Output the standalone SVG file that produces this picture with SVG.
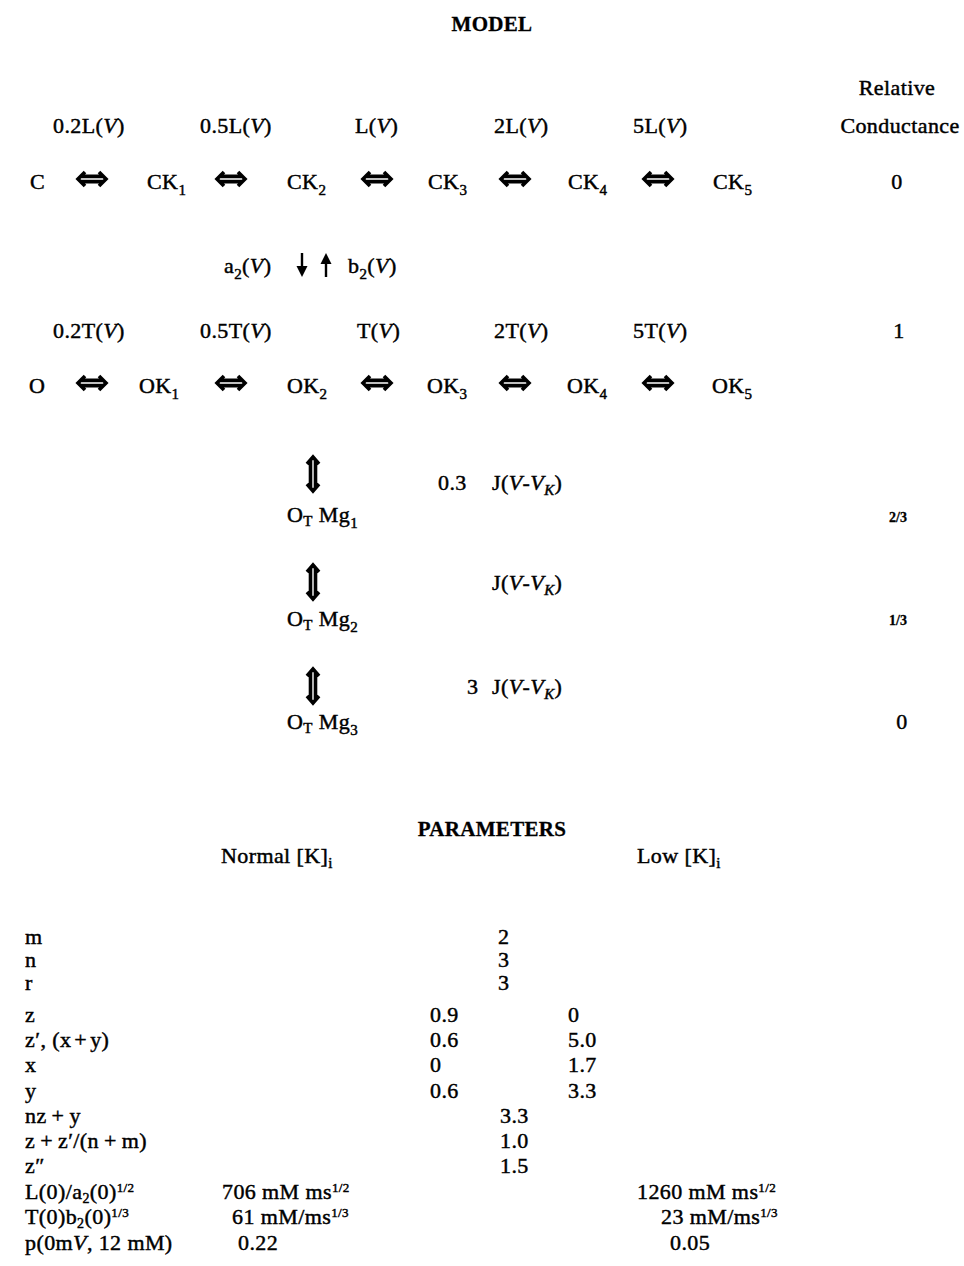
<svg xmlns="http://www.w3.org/2000/svg" xmlns:xlink="http://www.w3.org/1999/xlink" width="964" height="1266" viewBox="0 0 964 1266">
  <style>
    text { font-family: "Liberation Serif", "Times New Roman", serif; font-size: 22px; letter-spacing: 0.4px; fill: #000; stroke: #000; stroke-width: 0.45; }
    .title { font-weight: bold; font-size: 21px; letter-spacing: 0.3px; stroke-width: 0.3; }
    .sub { font-size: 15px; }
    .sup { font-size: 13px; }
    .psub { font-size: 14px; }
    .small { font-size: 14px; font-weight: bold; letter-spacing: 0; stroke-width: 0.3; }
    .it { font-style: italic; }
    .mid { text-anchor: middle; }
    .arr { fill: none; stroke: #000; stroke-width: 3.6; stroke-linejoin: miter; stroke-linecap: butt; }
    .thin { fill: none; stroke: #000; stroke-width: 2.4; }
    .head { fill: #000; stroke: none; }
  </style>
  <defs>
    <!-- bold double-headed reversible-step arrow, centred on the origin -->
    <g id="dblH">
      <path class="arr" d="M -7,-7 L -14,0 L -7,7 M 7,-7 L 14,0 L 7,7 M -11,-2.6 H 11 M -11,2.6 H 11"/>
    </g>
    <g id="dblV">
      <path class="arr" d="M -6,-10 L 0,-17 L 6,-10 M -6,10 L 0,17 L 6,10 M -2.5,-14 V 14 M 2.5,-14 V 14"/>
    </g>
  </defs>

  <rect width="964" height="1266" fill="#fff"/>

  <!-- headings -->
  <text class="title mid" x="492" y="31">MODEL</text>
  <text class="mid" x="897" y="95">Relative</text>
  <text class="mid" x="900" y="133">Conductance</text>

  <!-- closed-channel rate labels -->
  <g id="rates-closed">
    <text x="53" y="133">0.2L(<tspan class="it">V</tspan>)</text>
    <text x="200" y="133">0.5L(<tspan class="it">V</tspan>)</text>
    <text x="355" y="133">L(<tspan class="it">V</tspan>)</text>
    <text x="494" y="133">2L(<tspan class="it">V</tspan>)</text>
    <text x="633" y="133">5L(<tspan class="it">V</tspan>)</text>
  </g>

  <!-- closed states -->
  <g id="C"><text x="30" y="189">C</text></g>
  <g id="CK1"><text x="147" y="189">CK<tspan class="sub" dy="6">1</tspan></text></g>
  <g id="CK2"><text x="287" y="189">CK<tspan class="sub" dy="6">2</tspan></text></g>
  <g id="CK3"><text x="428" y="189">CK<tspan class="sub" dy="6">3</tspan></text></g>
  <g id="CK4"><text x="568" y="189">CK<tspan class="sub" dy="6">4</tspan></text></g>
  <g id="CK5"><text x="713" y="189">CK<tspan class="sub" dy="6">5</tspan></text></g>
  <text class="mid" x="897" y="189">0</text>

  <!-- opening transition labels -->
  <g id="open-rates">
    <text x="224" y="273">a<tspan class="sub" dy="6">2</tspan><tspan dy="-6">(</tspan><tspan class="it">V</tspan>)</text>
    <text x="348" y="273">b<tspan class="sub" dy="6">2</tspan><tspan dy="-6">(</tspan><tspan class="it">V</tspan>)</text>
  </g>

  <!-- open-channel rate labels -->
  <g id="rates-open">
    <text x="53" y="338">0.2T(<tspan class="it">V</tspan>)</text>
    <text x="200" y="338">0.5T(<tspan class="it">V</tspan>)</text>
    <text x="357" y="338">T(<tspan class="it">V</tspan>)</text>
    <text x="494" y="338">2T(<tspan class="it">V</tspan>)</text>
    <text x="633" y="338">5T(<tspan class="it">V</tspan>)</text>
  </g>
  <text class="mid" x="899" y="338">1</text>

  <!-- open states -->
  <g id="O"><text x="29" y="393">O</text></g>
  <g id="OK1"><text x="139" y="393">OK<tspan class="sub" dy="6">1</tspan></text></g>
  <g id="OK2"><text x="287" y="393">OK<tspan class="sub" dy="6">2</tspan></text></g>
  <g id="OK3"><text x="427" y="393">OK<tspan class="sub" dy="6">3</tspan></text></g>
  <g id="OK4"><text x="567" y="393">OK<tspan class="sub" dy="6">4</tspan></text></g>
  <g id="OK5"><text x="712" y="393">OK<tspan class="sub" dy="6">5</tspan></text></g>

  <!-- Mg-blocked states -->
  <g id="OTMg1"><text x="287" y="522">O<tspan class="sub" dy="4">T</tspan><tspan dy="-4"> Mg</tspan><tspan class="sub" dy="6">1</tspan></text></g>
  <g id="OTMg2"><text x="287" y="626">O<tspan class="sub" dy="4">T</tspan><tspan dy="-4"> Mg</tspan><tspan class="sub" dy="6">2</tspan></text></g>
  <g id="OTMg3"><text x="287" y="729">O<tspan class="sub" dy="4">T</tspan><tspan dy="-4"> Mg</tspan><tspan class="sub" dy="6">3</tspan></text></g>

  <!-- block rate labels -->
  <g id="block-rates">
    <text x="438" y="490">0.3</text>
    <text x="467" y="694">3</text>
    <text x="492" y="490">J(<tspan class="it">V</tspan>-<tspan class="it">V</tspan><tspan class="sub it" dy="5">K</tspan><tspan dy="-5">)</tspan></text>
    <text x="492" y="590">J(<tspan class="it">V</tspan>-<tspan class="it">V</tspan><tspan class="sub it" dy="5">K</tspan><tspan dy="-5">)</tspan></text>
    <text x="492" y="694">J(<tspan class="it">V</tspan>-<tspan class="it">V</tspan><tspan class="sub it" dy="5">K</tspan><tspan dy="-5">)</tspan></text>
  </g>
  <text class="small mid" x="898" y="522">2/3</text>
  <text class="small mid" x="898" y="625">1/3</text>
  <text class="mid" x="902" y="729">0</text>

  <!-- connectors -->
  <g id="connectors">
    <use xlink:href="#dblH" x="92" y="179"/>
    <use xlink:href="#dblH" x="231" y="179"/>
    <use xlink:href="#dblH" x="377" y="179"/>
    <use xlink:href="#dblH" x="515" y="179"/>
    <use xlink:href="#dblH" x="658" y="179"/>

    <use xlink:href="#dblH" x="92" y="383"/>
    <use xlink:href="#dblH" x="231" y="383"/>
    <use xlink:href="#dblH" x="377" y="383"/>
    <use xlink:href="#dblH" x="515" y="383"/>
    <use xlink:href="#dblH" x="658" y="383"/>

    <!-- a2 down / b2 up -->
    <path class="thin" d="M 302,253 V 270"/>
    <path class="head" d="M 296.5,266 L 302,277 L 307.5,266 Z"/>
    <path class="thin" d="M 326,260 V 277"/>
    <path class="head" d="M 320.5,264 L 326,253 L 331.5,264 Z"/>

    <use xlink:href="#dblV" x="313" y="474"/>
    <use xlink:href="#dblV" x="313" y="582"/>
    <use xlink:href="#dblV" x="313" y="686"/>
  </g>

  <!-- parameter table -->
  <text class="title mid" x="492" y="836">PARAMETERS</text>
  <text x="221" y="863">Normal [K]<tspan class="sub" dy="5">i</tspan></text>
  <text x="637" y="863">Low [K]<tspan class="sub" dy="5">i</tspan></text>

  <g id="param-names">
    <text x="25" y="944">m</text>
    <text x="25" y="967">n</text>
    <text x="25" y="990">r</text>
    <text x="25" y="1022">z</text>
    <text x="25" y="1047">z′, (x<tspan dx="3">+</tspan><tspan dx="3">y)</tspan></text>
    <text x="25" y="1072">x</text>
    <text x="25" y="1098">y</text>
    <text x="25" y="1123">nz<tspan dx="5">+</tspan><tspan dx="5">y</tspan></text>
    <text x="25" y="1148">z<tspan dx="5">+</tspan><tspan dx="5">z′/(n</tspan><tspan dx="5">+</tspan><tspan dx="5">m)</tspan></text>
    <text x="25" y="1173">z″</text>
    <text x="25" y="1199">L(0)/a<tspan class="psub" dy="4">2</tspan><tspan dy="-4">(0)</tspan><tspan class="sup" dy="-7">1/2</tspan></text>
    <text x="25" y="1224">T(0)b<tspan class="psub" dy="4">2</tspan><tspan dy="-4">(0)</tspan><tspan class="sup" dy="-7">1/3</tspan></text>
    <text x="25" y="1250">p(0m<tspan class="it">V</tspan>, 12 mM)</text>
  </g>

  <g id="param-values">
    <text x="498" y="944">2</text>
    <text x="498" y="967">3</text>
    <text x="498" y="990">3</text>
    <text x="430" y="1022">0.9</text><text x="568" y="1022">0</text>
    <text x="430" y="1047">0.6</text><text x="568" y="1047">5.0</text>
    <text x="430" y="1072">0</text><text x="568" y="1072">1.7</text>
    <text x="430" y="1098">0.6</text><text x="568" y="1098">3.3</text>
    <text x="500" y="1123">3.3</text>
    <text x="500" y="1148">1.0</text>
    <text x="500" y="1173">1.5</text>
    <text x="222" y="1199">706 mM ms<tspan class="sup" dy="-7">1/2</tspan></text>
    <text x="637" y="1199">1260 mM ms<tspan class="sup" dy="-7">1/2</tspan></text>
    <text x="232" y="1224">61 mM/ms<tspan class="sup" dy="-7">1/3</tspan></text>
    <text x="661" y="1224">23 mM/ms<tspan class="sup" dy="-7">1/3</tspan></text>
    <text x="238" y="1250">0.22</text>
    <text x="670" y="1250">0.05</text>
  </g>
</svg>
